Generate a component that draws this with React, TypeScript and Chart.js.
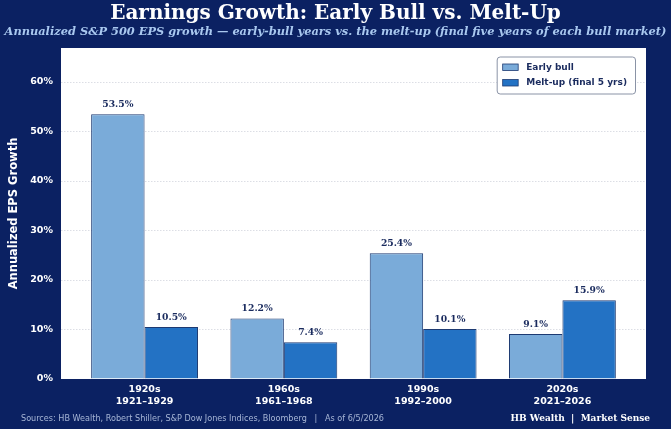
import React, { useEffect, useRef } from "react";
import { Chart, registerables } from "chart.js";

Chart.register(...registerables);

const categories = ["1920s", "1960s", "1990s", "2020s"];
const periods = ["1921–1929", "1961–1968", "1992–2000", "2021–2026"];
const earlyBull = [53.5, 12.2, 25.4, 9.1];
const meltUp = [10.5, 7.4, 10.1, 15.9];
const seriesNames = ["Early bull", "Melt-up (final 5 yrs)"];
const yTicks = [0, 10, 20, 30, 40, 50, 60];

const TITLE = "Earnings Growth: Early Bull vs. Melt-Up";
const SUBTITLE =
  "Annualized S&P 500 EPS growth — early-bull years vs. the melt-up (final five years of each bull market)";
const SOURCE =
  "Sources: HB Wealth, Robert Shiller, S&P Dow Jones Indices, Bloomberg   |   As of 6/5/2026";
const BRAND = "HB Wealth  |  Market Sense";

const NAVY = "#0b2162";
const LIGHT = "#7aabd9";
const DARK = "#2372c4";
const EDGE = "#1d3a72";
const LABEL = "#1a2b5e";

const bgPlugin = {
  id: "bg",
  beforeDraw(chart: any) {
    const { ctx, width, height, chartArea } = chart;
    ctx.save();
    ctx.fillStyle = NAVY;
    ctx.fillRect(0, 0, width, height);
    ctx.fillStyle = "#ffffff";
    ctx.fillRect(
      chartArea.left,
      chartArea.top,
      chartArea.right - chartArea.left,
      chartArea.bottom - chartArea.top
    );
    ctx.restore();
  },
  afterDraw(chart: any) {
    const { ctx, width } = chart;
    ctx.save();
    ctx.textBaseline = "middle";
    ctx.textAlign = "center";
    ctx.fillStyle = "#ffffff";
    ctx.font = "bold 20px 'DejaVu Serif'";
    ctx.fillText(TITLE, width / 2, 14);
    ctx.fillStyle = "#a9c8ef";
    ctx.font = "italic bold 11.4px 'DejaVu Serif'";
    ctx.fillText(SUBTITLE, width / 2, 32);
    ctx.textAlign = "left";
    ctx.fillStyle = "#a7b6d6";
    ctx.font = "8.1px 'DejaVu Sans'";
    ctx.fillText(SOURCE, 21, 419);
    ctx.textAlign = "right";
    ctx.fillStyle = "#ffffff";
    ctx.font = "bold 9px 'DejaVu Serif'";
    ctx.fillText(BRAND, 650, 419);

    // legend
    const ca = chart.chartArea;
    ctx.font = "bold 9px 'DejaVu Sans'";
    const textW = Math.max(...seriesNames.map((s) => ctx.measureText(s).width));
    const boxW = 6 + 15.5 + 8 + textW + 8;
    const boxH = 37;
    const bx = ca.right - 11 - boxW;
    const by = ca.top + 8.5;
    ctx.beginPath();
    (ctx as any).roundRect(bx + 0.5, by + 0.5, boxW, boxH, 3);
    ctx.fillStyle = "#ffffff";
    ctx.fill();
    ctx.strokeStyle = "#8a93a6";
    ctx.lineWidth = 1;
    ctx.stroke();
    const colors = [LIGHT, DARK];
    seriesNames.forEach((name, i) => {
      const cy = by + 10.5 + i * 15.5;
      ctx.fillStyle = colors[i];
      ctx.fillRect(bx + 6, cy - 3, 15.5, 6.5);
      ctx.strokeStyle = EDGE;
      ctx.lineWidth = 0.8;
      ctx.strokeRect(bx + 6, cy - 3, 15.5, 6.5);
      ctx.fillStyle = LABEL;
      ctx.textAlign = "left";
      ctx.fillText(name, bx + 6 + 15.5 + 8, cy + 0.5);
    });
    ctx.restore();
  },
  afterDatasetsDraw(chart: any) {
    const { ctx } = chart;
    ctx.save();
    ctx.font = "bold 9.2px 'DejaVu Serif'";
    ctx.fillStyle = LABEL;
    ctx.textAlign = "center";
    ctx.textBaseline = "bottom";
    chart.data.datasets.forEach((ds: any, di: number) => {
      const meta = chart.getDatasetMeta(di);
      meta.data.forEach((el: any, i: number) => {
        const v = ds.data[i].y;
        ctx.fillText(v.toFixed(1) + "%", el.x, el.y - 5);
      });
    });
    ctx.restore();
  },
};

export default function App() {
  const ref = useRef<HTMLCanvasElement | null>(null);
  useEffect(() => {
    document.body.style.margin = "0";
    const canvas = ref.current!;
    const chart = new Chart(canvas, {
      type: "bar",
      data: {
        datasets: [
          {
            label: seriesNames[0],
            data: earlyBull.map((y, i) => ({ x: i, y })),
            backgroundColor: LIGHT,
            borderColor: EDGE,
            borderWidth: 1,
          },
          {
            label: seriesNames[1],
            data: meltUp.map((y, i) => ({ x: i, y })),
            backgroundColor: DARK,
            borderColor: EDGE,
            borderWidth: 1,
          },
        ],
      },
      options: {
        animation: false,
        responsive: false,
        devicePixelRatio: 1,
        categoryPercentage: 0.767,
        barPercentage: 1.0,
        layout: { padding: { top: 48, right: 25, bottom: 0, left: 0 } },
        plugins: {
          legend: { display: false },
          tooltip: { enabled: false },
          title: { display: false },
        },
        scales: {
          x: {
            type: "linear",
            min: -0.6,
            max: 3.6,
            offset: false,
            border: { display: false },
            grid: { display: false, drawTicks: false },
            afterFit(scale: any) {
              scale.height = 50;
            },
            ticks: {
              stepSize: 1,
              includeBounds: false,
              autoSkip: false,
              maxRotation: 0,
              padding: 5,
              color: "#ffffff",
              font: { family: "'DejaVu Sans'", size: 9.5, weight: "bold", lineHeight: 1.2 },
              callback: (v: any) =>
                Number.isInteger(v) && v >= 0 && v < categories.length
                  ? [categories[v], periods[v]]
                  : "",
            },
          },
          y: {
            min: 0,
            max: 66.875,
            border: { display: false, dash: [1.5, 1.5] },
            afterFit(scale: any) {
              scale.width = 61;
            },
            afterBuildTicks(scale: any) {
              scale.ticks = yTicks.map((v) => ({ value: v }));
            },
            grid: {
              drawTicks: false,
              color: (c: any) => (c.tick && c.tick.value === 0 ? "rgba(0,0,0,0)" : "#d3d6de"),
              lineWidth: 0.8,
            },
            ticks: {
              padding: 8,
              color: "#ffffff",
              font: { family: "'DejaVu Sans'", size: 9.5, weight: "bold" },
              callback: (v: any) => v + "%",
            },
            title: {
              display: true,
              text: "Annualized EPS Growth",
              color: "#ffffff",
              font: { family: "'DejaVu Sans'", size: 11.5, weight: "bold", lineHeight: 1.2 },
              padding: { top: 7, bottom: 0 },
            },
          },
        },
      } as any,
      plugins: [bgPlugin],
    });
    return () => chart.destroy();
  }, []);
  return (
    <div style={{ width: 671, height: 429 }}>
      <canvas ref={ref} width={671} height={429} style={{ display: "block" }} />
    </div>
  );
}
